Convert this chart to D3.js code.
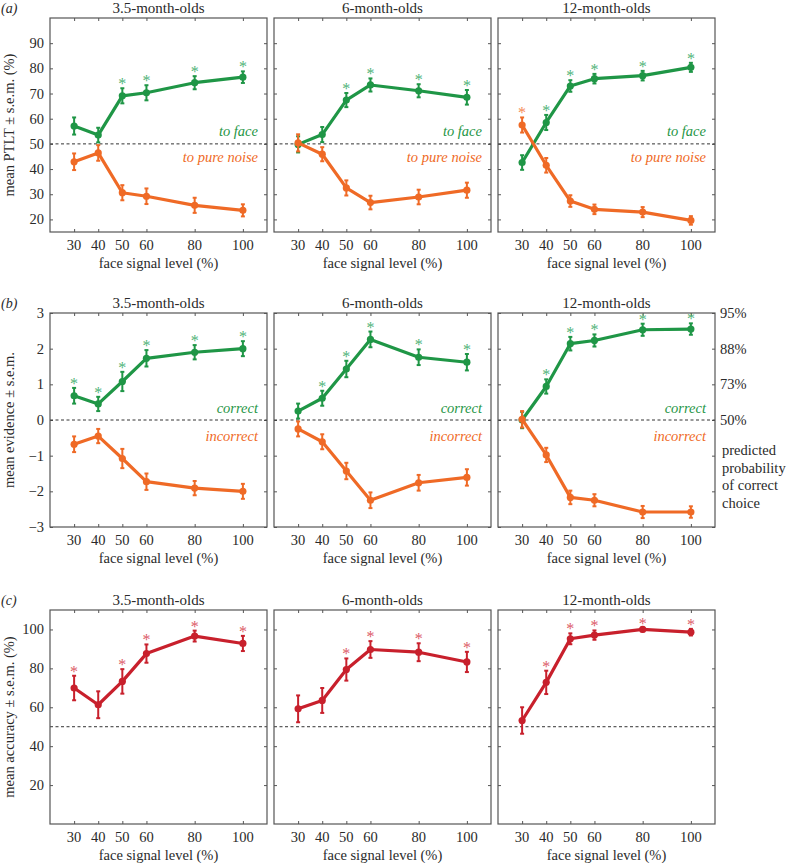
<!DOCTYPE html>
<html><head><meta charset="utf-8">
<script src="https://cdn.jsdelivr.net/npm/d3@7"></script>
<style>body{margin:0;background:#fff}svg{display:block}text{font-family:"Liberation Serif","Times New Roman",serif}</style>
</head><body>
<svg id="c" width="788" height="863"></svg>
<script>
const levels = [30, 40, 50, 60, 80, 100];
const groups = ["3.5-month-olds", "6-month-olds", "12-month-olds"];

// (a) PTLT
const ptltFace = [[57.1,53.5,69.1,70.3,74.3,76.5],[49.8,53.7,67.4,73.4,71.1,68.5],[42.6,58.5,73.0,75.9,77.1,80.4]];
const ptltFaceErr = [[3.4,2.9,3.0,3.0,2.6,2.3],[3.2,3.0,2.8,2.6,2.6,2.9],[2.9,3.0,2.3,1.9,1.9,1.8]];
const ptltFaceSig = [[0,0,1,1,1,1],[0,0,1,1,1,1],[0,1,1,1,1,1]];
const ptltNoise = [[42.9,46.4,30.6,29.2,25.6,23.6],[50.4,45.9,32.5,26.7,28.9,31.6],[57.5,41.5,27.3,24.0,22.9,19.6]];
const ptltNoiseErr = [[3.3,3.1,3.0,3.1,3.0,2.4],[3.4,2.8,3.0,2.7,2.9,3.0],[3.0,2.9,2.3,1.9,2.0,1.7]];
const ptltNoiseSig = [[0,0,0,0,0,0],[0,0,0,0,0,0],[1,0,0,0,0,0]];

// (b) evidence
const evCorrect = [[0.68,0.45,1.08,1.73,1.90,2.00],[0.25,0.61,1.43,2.26,1.76,1.62],[0.0,0.94,2.14,2.23,2.53,2.55]];
const evCorrectErr = [[0.22,0.20,0.27,0.23,0.20,0.21],[0.21,0.21,0.23,0.22,0.22,0.23],[0.23,0.20,0.19,0.17,0.17,0.16]];
const evCorrectSig = [[1,1,1,1,1,1],[0,1,1,1,1,1],[0,1,1,1,1,1]];
const evIncorrect = [[-0.68,-0.45,-1.08,-1.73,-1.91,-2.00],[-0.25,-0.61,-1.43,-2.25,-1.76,-1.61],[0.02,-0.98,-2.17,-2.25,-2.58,-2.58]];
const evIncorrectErr = [[0.22,0.20,0.27,0.23,0.20,0.21],[0.21,0.21,0.23,0.22,0.22,0.23],[0.23,0.20,0.19,0.17,0.17,0.16]];
const probTicks = [0, 1, 2, 3];
const probLabels = ["50%", "73%", "88%", "95%"];

// (c) accuracy
const accuracy = [[69.9,61.3,73.3,87.6,96.6,92.8],[59.2,63.5,79.4,89.7,88.3,83.3],[53.2,72.8,95.2,97.1,100,98.6]];
const accuracyErr = [[6.3,6.9,6.3,4.7,2.8,3.9],[6.9,6.4,5.7,4.3,4.6,5.2],[6.8,6.0,2.8,2.4,1.0,1.7]];
const accuracySig = [[1,0,1,1,1,1],[0,0,1,1,1,1],[0,1,1,1,1,1]];

const GREEN = "#1f9646", ORANGE = "#ef6a26", RED = "#c8202c";
const GREEN_L = "#4fb377", ORANGE_L = "#f58a55", RED_L = "#dc5a66";
const TXT = "#2a2a2a", FRAME = "#555";

const svg = d3.select("#c");
const lefts = [50, 274, 498], W = 217, H = 214;
const rows = [
  {top: 18, domain: [15, 100], ticks: [20,30,40,50,60,70,80,90], ref: 50, label: "mean PTLT \u00b1 s.e.m. (%)", tag: "(a)",
   series: [
     {v: ptltFace, e: ptltFaceErr, s: ptltFaceSig, c: GREEN, cl: GREEN_L},
     {v: ptltNoise, e: ptltNoiseErr, s: ptltNoiseSig, c: ORANGE, cl: ORANGE_L}],
   texts: [{t: "to face", c: GREEN, dy: -8}, {t: "to pure noise", c: ORANGE, dy: 18}]},
  {top: 313, domain: [-3, 3], ticks: [-3,-2,-1,0,1,2,3], ref: 0, label: "mean evidence \u00b1 s.e.m.", tag: "(b)",
   series: [
     {v: evCorrect, e: evCorrectErr, s: evCorrectSig, c: GREEN, cl: GREEN_L},
     {v: evIncorrect, e: evIncorrectErr, s: null, c: ORANGE, cl: ORANGE_L}],
   texts: [{t: "correct", c: GREEN, dy: -7}, {t: "incorrect", c: ORANGE, dy: 21}]},
  {top: 610, domain: [0, 110], ticks: [20,40,60,80,100], ref: 50, label: "mean accuracy \u00b1 s.e.m. (%)", tag: "(c)",
   series: [{v: accuracy, e: accuracyErr, s: accuracySig, c: RED, cl: RED_L}],
   texts: []}
];

rows.forEach((row, ri) => {
  const y = d3.scaleLinear().domain(row.domain).range([row.top + H, row.top]);
  svg.append("text").attr("x", 1).attr("y", row.top - 5).attr("font-size", 14).attr("font-style", "italic")
    .attr("fill", TXT).text(row.tag);
  svg.append("text").attr("transform", `translate(14,${row.top + H/2}) rotate(-90)`)
    .attr("text-anchor", "middle").attr("font-size", 14.5).attr("fill", TXT).text(row.label);

  groups.forEach((g, gi) => {
    const L = lefts[gi];
    const x = d3.scaleLinear().domain([20, 110]).range([L, L + W]);
    const p = svg.append("g");
    p.append("text").attr("x", L + W/2).attr("y", row.top - 5).attr("text-anchor", "middle")
      .attr("font-size", 15).attr("fill", TXT).text(g);
    p.append("g").attr("transform", `translate(0,${row.top + H})`).call(d3.axisBottom(x).tickValues(levels).tickSize(-3).tickFormat(""));
    p.append("g").attr("transform", `translate(0,${row.top})`).call(d3.axisTop(x).tickValues(levels).tickSize(-3).tickFormat(""));
    p.append("g").attr("transform", `translate(${L},0)`).call(d3.axisLeft(y).tickValues(row.ticks).tickSize(-3).tickFormat(""));
    p.append("g").attr("transform", `translate(${L + W},0)`).call(d3.axisRight(y).tickValues(row.ticks).tickSize(-3).tickFormat(""));
    p.selectAll(".domain").remove();
    p.selectAll(".tick line").attr("stroke", FRAME).attr("stroke-width", 1);
    p.append("g").selectAll("text").data(levels).join("text")
      .attr("x", d => x(d)).attr("y", row.top + H + 18).attr("text-anchor", "middle")
      .attr("font-size", 14.5).attr("fill", TXT).text(d => d);
    p.append("text").attr("x", L + W/2).attr("y", row.top + H + 36).attr("text-anchor", "middle")
      .attr("font-size", 14.5).attr("fill", TXT).text("face signal level (%)");
    if (gi === 0) {
      p.append("g").selectAll("text").data(row.ticks).join("text")
        .attr("x", L - 6).attr("y", d => y(d) + 5).attr("text-anchor", "end")
        .attr("font-size", 14.5).attr("fill", TXT).text(d => d < 0 ? "\u2212" + Math.abs(d) : d);
    }
    p.append("line").attr("x1", L).attr("x2", L + W).attr("y1", y(row.ref)).attr("y2", y(row.ref))
      .attr("stroke", "#333").attr("stroke-width", 1).attr("stroke-dasharray", "3,2.5");
    row.series.forEach(s => {
      const vals = s.v[gi], errs = s.e[gi];
      const pts = levels.map((l, i) => ({l, v: vals[i], e: errs[i], sig: s.s ? s.s[gi][i] : 0}));
      p.append("path").datum(pts).attr("fill", "none").attr("stroke", s.c).attr("stroke-width", 3.2)
        .attr("stroke-linejoin", "round")
        .attr("d", d3.line().x(d => x(d.l)).y(d => y(d.v)));
      const eb = p.append("g").attr("stroke", s.c).attr("stroke-width", 2);
      pts.forEach(d => {
        eb.append("line").attr("x1", x(d.l)).attr("x2", x(d.l)).attr("y1", y(d.v - d.e)).attr("y2", y(d.v + d.e));
        eb.append("line").attr("x1", x(d.l) - 2).attr("x2", x(d.l) + 2).attr("y1", y(d.v - d.e)).attr("y2", y(d.v - d.e));
        eb.append("line").attr("x1", x(d.l) - 2).attr("x2", x(d.l) + 2).attr("y1", y(d.v + d.e)).attr("y2", y(d.v + d.e));
      });
      p.append("g").selectAll("circle").data(pts).join("circle")
        .attr("cx", d => x(d.l)).attr("cy", d => y(d.v)).attr("r", 3.6).attr("fill", s.c);
      p.append("g").selectAll("text").data(pts.filter(d => d.sig)).join("text")
        .attr("x", d => x(d.l)).attr("y", d => y(d.v + d.e) + 1).attr("text-anchor", "middle")
        .attr("font-size", 16).attr("fill", s.cl).text("*");
    });
    row.texts.forEach(t => {
      p.append("text").attr("x", L + W - 9).attr("y", y(row.ref) + t.dy).attr("text-anchor", "end")
        .attr("font-size", 14.5).attr("font-style", "italic").attr("fill", t.c).text(t.t);
    });
    p.append("rect").attr("x", L).attr("y", row.top).attr("width", W).attr("height", H)
      .attr("fill", "none").attr("stroke", FRAME).attr("stroke-width", 1.2);

    if (ri === 1 && gi === 2) {
      p.append("g").selectAll("text").data(probTicks).join("text")
        .attr("x", L + W + 5).attr("y", (d) => y(d) + 5).attr("font-size", 14.5).attr("fill", TXT)
        .text((d, i) => probLabels[i]);
      const lines = ["predicted", "probability", "of correct", "choice"];
      p.append("g").selectAll("text").data(lines).join("text")
        .attr("x", L + W + 7).attr("y", (d, i) => row.top + 142 + i * 17.5).attr("font-size", 14.5).attr("fill", TXT)
        .text(d => d);
    }
  });
});
</script>
</body></html>
